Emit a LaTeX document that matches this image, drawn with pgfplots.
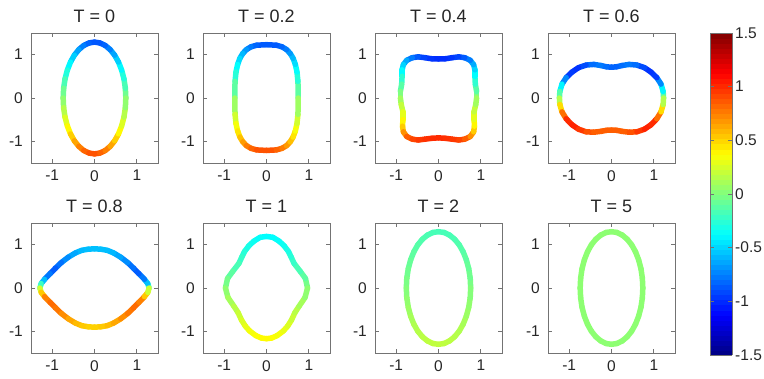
\documentclass[border=0pt]{standalone}
\usepackage{pgfplots}
\pgfplotsset{compat=1.18}
\usepackage{fontspec}
\setmainfont{Liberation Sans}

\pgfplotsset{
  every axis title shift=0pt,
  panel/.style={
    scale only axis, width=127pt, height=130pt,
    xmin=-1.5, xmax=1.5, ymin=-1.5, ymax=1.5,
    xtick={-1,0,1}, ytick={-1,0,1},
    xticklabels={-1,0,1}, yticklabels={-1,0,1},
    tick align=inside, major tick length=4pt,
    axis line style={black!55, line width=0.8pt},
    tick style={black!55, line width=0.8pt},
    ticklabel style={font=\fontsize{15.5}{16}\selectfont, text=black!85, inner sep=0pt},
    xticklabel style={anchor=north, yshift=-7pt},
    yticklabel style={anchor=east, xshift=-8pt},
    title style={at={(0.5,1)}, anchor=base, yshift=10pt, inner sep=0pt,
                 font=\fontsize{18}{20}\selectfont, text=black!85},
    colormap/jet, point meta min=-1.5, point meta max=1.5,
  },
  curve/.style={mesh, line width=5.5pt, line cap=round, line join=round, point meta=explicit},
}

\begin{document}
\begin{tikzpicture}
\useasboundingbox (0,0) rectangle (764pt,379pt);

% ---------- T = 0 ----------
\begin{axis}[panel, at={(31pt,216pt)}, anchor=south west, title={T = 0}]
\addplot[curve] table[x index=0, y index=1, meta index=2] {
0.740 0.000 0.00
0.729 0.224 -0.10
0.696 0.441 -0.22
0.641 0.645 -0.33
0.567 0.829 -0.45
0.476 0.988 -0.58
0.370 1.117 -0.70
0.253 1.213 -0.80
0.129 1.270 -0.86
0.000 1.290 -0.88
-0.129 1.270 -0.86
-0.253 1.213 -0.80
-0.370 1.117 -0.70
-0.476 0.988 -0.58
-0.567 0.829 -0.45
-0.641 0.645 -0.33
-0.696 0.441 -0.22
-0.729 0.224 -0.10
-0.740 0.000 0.00
-0.729 -0.224 0.10
-0.696 -0.441 0.22
-0.641 -0.645 0.33
-0.567 -0.829 0.45
-0.476 -0.988 0.58
-0.370 -1.117 0.70
-0.253 -1.213 0.80
-0.129 -1.270 0.86
0.000 -1.290 0.90
0.129 -1.270 0.86
0.253 -1.213 0.80
0.370 -1.117 0.70
0.476 -0.988 0.58
0.567 -0.829 0.45
0.641 -0.645 0.33
0.696 -0.441 0.22
0.729 -0.224 0.10
0.740 0.000 0.00
};
\end{axis}

% ---------- T = 0.2 ----------
\begin{axis}[panel, at={(203pt,216pt)}, anchor=south west, title={T = 0.2}]
\addplot[curve] table[x index=0, y index=1, meta index=2] {
0.750 0.000 0.00
0.743 0.384 -0.20
0.720 0.601 -0.32
0.682 0.775 -0.42
0.628 0.916 -0.53
0.559 1.030 -0.63
0.473 1.118 -0.72
0.367 1.181 -0.80
0.234 1.218 -0.85
0.000 1.230 -0.87
-0.234 1.218 -0.85
-0.367 1.181 -0.80
-0.473 1.118 -0.72
-0.559 1.030 -0.63
-0.628 0.916 -0.53
-0.682 0.775 -0.42
-0.720 0.601 -0.32
-0.743 0.384 -0.20
-0.750 0.000 0.00
-0.743 -0.378 0.18
-0.720 -0.592 0.30
-0.682 -0.762 0.40
-0.628 -0.901 0.50
-0.559 -1.013 0.62
-0.473 -1.100 0.72
-0.367 -1.162 0.80
-0.234 -1.198 0.86
0.000 -1.210 0.90
0.234 -1.198 0.86
0.367 -1.162 0.80
0.473 -1.100 0.72
0.559 -1.013 0.62
0.628 -0.901 0.50
0.682 -0.762 0.40
0.720 -0.592 0.30
0.743 -0.378 0.18
0.750 0.000 0.00
};
\end{axis}

% ---------- T = 0.4 ----------
\begin{axis}[panel, at={(375pt,216pt)}, anchor=south west, title={T = 0.4}]
\addplot[curve] table[x index=0, y index=1, meta index=2] {
0.90 0.00 0.05
0.90 0.15 -0.05
0.87 0.32 -0.18
0.86 0.50 -0.30
0.86 0.65 -0.45
0.83 0.77 -0.55
0.75 0.87 -0.70
0.62 0.93 -0.82
0.48 0.95 -0.90
0.32 0.93 -0.95
0.16 0.905 -0.98
0.00 0.90 -1.00
-0.16 0.905 -0.98
-0.32 0.93 -0.95
-0.48 0.95 -0.90
-0.62 0.93 -0.82
-0.75 0.87 -0.70
-0.83 0.77 -0.55
-0.86 0.65 -0.45
-0.86 0.50 -0.30
-0.87 0.32 -0.18
-0.90 0.15 -0.05
-0.90 0.00 0.05
-0.88 -0.15 0.15
-0.84 -0.32 0.25
-0.84 -0.50 0.35
-0.85 -0.65 0.45
-0.83 -0.78 0.60
-0.75 -0.89 0.80
-0.62 -0.95 0.90
-0.48 -0.97 0.95
-0.32 -0.95 0.97
-0.16 -0.93 1.00
0.00 -0.92 1.00
0.16 -0.93 1.00
0.32 -0.95 0.97
0.48 -0.97 0.95
0.62 -0.95 0.90
0.75 -0.89 0.80
0.83 -0.78 0.60
0.85 -0.65 0.45
0.84 -0.50 0.35
0.84 -0.32 0.25
0.88 -0.15 0.15
0.90 0.00 0.05
};
\end{axis}

% ---------- T = 0.6 (with colorbar) ----------
\begin{axis}[panel, at={(548pt,216pt)}, anchor=south west, title={T = 0.6},
  colorbar sampled,
  colorbar style={
    at={(parent axis.north east)}, anchor=north west, xshift=26.5pt,
    scale only axis, width=22pt, height=322pt,
    samples=65,
    xtick=\empty,
    ytick={-1.5,-1,-0.5,0,0.5,1,1.5},
    yticklabels={-1.5,-1,-0.5,0,0.5,1,1.5},
    ytick pos=both, yticklabel pos=right,
    tick align=inside, major tick length=4pt,
    axis line style={black!55, line width=0.8pt},
    tick style={black!55, line width=0.8pt},
    yticklabel style={font=\fontsize{15.5}{16}\selectfont, text=black!85,
                      anchor=west, inner sep=0pt, xshift=3pt},
  }]
\addplot[curve] table[x index=0, y index=1, meta index=2] {
1.23 0.00 0.00
1.22 0.15 -0.25
1.17 0.32 -0.55
1.07 0.47 -0.90
0.93 0.60 -1.00
0.78 0.70 -0.95
0.60 0.76 -0.85
0.42 0.775 -0.75
0.25 0.75 -0.78
0.12 0.72 -0.82
0.00 0.71 -0.85
-0.12 0.72 -0.82
-0.25 0.75 -0.78
-0.42 0.775 -0.75
-0.60 0.76 -0.85
-0.78 0.70 -0.95
-0.93 0.60 -1.00
-1.07 0.47 -0.90
-1.17 0.32 -0.55
-1.22 0.15 -0.25
-1.23 0.00 0.00
-1.22 -0.15 0.30
-1.17 -0.32 0.65
-1.07 -0.48 0.95
-0.93 -0.62 1.05
-0.78 -0.72 1.00
-0.60 -0.78 0.92
-0.42 -0.79 0.85
-0.25 -0.77 0.85
-0.12 -0.745 0.85
0.00 -0.74 0.85
0.12 -0.745 0.85
0.25 -0.77 0.85
0.42 -0.79 0.85
0.60 -0.78 0.92
0.78 -0.72 1.00
0.93 -0.62 1.05
1.07 -0.48 0.95
1.17 -0.32 0.65
1.22 -0.15 0.30
1.23 0.00 0.00
};
\end{axis}

% ---------- T = 0.8 ----------
\begin{axis}[panel, at={(31pt,26pt)}, anchor=south west, title={T = 0.8}]
\addplot[curve] table[x index=0, y index=1, meta index=2] {
1.29 0.00 0.05
1.26 0.10 -0.45
1.18 0.20 -0.67
1.05 0.33 -0.87
0.92 0.46 -0.83
0.78 0.59 -0.75
0.62 0.71 -0.67
0.45 0.81 -0.60
0.30 0.87 -0.57
0.15 0.895 -0.56
0.00 0.905 -0.56
-0.15 0.895 -0.56
-0.30 0.87 -0.57
-0.45 0.81 -0.60
-0.62 0.71 -0.67
-0.78 0.59 -0.75
-0.92 0.46 -0.83
-1.05 0.33 -0.87
-1.18 0.20 -0.67
-1.26 0.10 -0.45
-1.29 0.00 0.05
-1.26 -0.10 0.40
-1.18 -0.20 0.67
-1.05 -0.33 0.82
-0.92 -0.46 0.80
-0.78 -0.59 0.75
-0.62 -0.71 0.67
-0.45 -0.81 0.60
-0.30 -0.87 0.55
-0.15 -0.895 0.52
0.00 -0.905 0.50
0.15 -0.895 0.52
0.30 -0.87 0.55
0.45 -0.81 0.60
0.62 -0.71 0.67
0.78 -0.59 0.75
0.92 -0.46 0.80
1.05 -0.33 0.82
1.18 -0.20 0.67
1.26 -0.10 0.40
1.29 0.00 0.05
};
\end{axis}

% ---------- T = 1 ----------
\begin{axis}[panel, at={(203pt,26pt)}, anchor=south west, title={T = 1}]
\addplot[curve] table[x index=0, y index=1, meta index=2] {
0.97 0.00 0.01
0.92 0.22 -0.07
0.80 0.38 -0.13
0.65 0.57 -0.19
0.58 0.72 -0.24
0.52 0.84 -0.28
0.42 0.97 -0.32
0.30 1.08 -0.35
0.15 1.17 -0.37
0.00 1.19 -0.38
-0.15 1.17 -0.37
-0.30 1.08 -0.35
-0.42 0.97 -0.32
-0.52 0.84 -0.28
-0.58 0.72 -0.24
-0.65 0.57 -0.19
-0.80 0.38 -0.13
-0.92 0.22 -0.07
-0.97 0.00 0.01
-0.91 -0.22 0.08
-0.77 -0.42 0.14
-0.67 -0.57 0.19
-0.59 -0.74 0.25
-0.50 -0.88 0.29
-0.40 -0.99 0.33
-0.25 -1.10 0.36
-0.12 -1.155 0.38
0.00 -1.17 0.39
0.12 -1.155 0.38
0.25 -1.10 0.36
0.40 -0.99 0.33
0.50 -0.88 0.29
0.59 -0.74 0.25
0.67 -0.57 0.19
0.77 -0.42 0.14
0.91 -0.22 0.08
0.97 0.00 0.01
};
\end{axis}

% ---------- T = 2 ----------
\begin{axis}[panel, at={(375pt,26pt)}, anchor=south west, title={T = 2}]
\addplot[curve] table[x index=0, y index=1, meta index=2] {
0.760 0.000 0.00
0.749 0.226 -0.03
0.714 0.445 -0.06
0.658 0.650 -0.085
0.582 0.836 -0.11
0.489 0.996 -0.13
0.380 1.126 -0.145
0.260 1.222 -0.16
0.132 1.281 -0.165
0.000 1.300 -0.17
-0.132 1.281 -0.165
-0.260 1.222 -0.16
-0.380 1.126 -0.145
-0.489 0.996 -0.13
-0.582 0.836 -0.11
-0.658 0.650 -0.085
-0.714 0.445 -0.06
-0.749 0.226 -0.03
-0.760 0.000 0.00
-0.749 -0.226 0.035
-0.714 -0.445 0.07
-0.658 -0.650 0.10
-0.582 -0.836 0.13
-0.489 -0.996 0.15
-0.380 -1.126 0.17
-0.260 -1.222 0.18
-0.132 -1.281 0.19
0.000 -1.300 0.19
0.132 -1.281 0.19
0.260 -1.222 0.18
0.380 -1.126 0.17
0.489 -0.996 0.15
0.582 -0.836 0.13
0.658 -0.650 0.10
0.714 -0.445 0.07
0.749 -0.226 0.035
0.760 0.000 0.00
};
\end{axis}

% ---------- T = 5 ----------
\begin{axis}[panel, at={(548pt,26pt)}, anchor=south west, title={T = 5}]
\addplot[curve] table[x index=0, y index=1, meta index=2] {
0.740 0.000 0.04
0.729 0.226 0.04
0.696 0.445 0.04
0.641 0.650 0.04
0.567 0.836 0.04
0.476 0.996 0.04
0.370 1.126 0.04
0.253 1.222 0.04
0.129 1.281 0.04
0.000 1.300 0.04
-0.129 1.281 0.04
-0.253 1.222 0.04
-0.370 1.126 0.04
-0.476 0.996 0.04
-0.567 0.836 0.04
-0.641 0.650 0.04
-0.696 0.445 0.04
-0.729 0.226 0.04
-0.740 0.000 0.04
-0.729 -0.226 0.04
-0.696 -0.445 0.04
-0.641 -0.650 0.04
-0.567 -0.836 0.04
-0.476 -0.996 0.04
-0.370 -1.126 0.04
-0.253 -1.222 0.04
-0.129 -1.281 0.04
0.000 -1.300 0.04
0.129 -1.281 0.04
0.253 -1.222 0.04
0.370 -1.126 0.04
0.476 -0.996 0.04
0.567 -0.836 0.04
0.641 -0.650 0.04
0.696 -0.445 0.04
0.729 -0.226 0.04
0.740 0.000 0.04
};
\end{axis}

\end{tikzpicture}
\end{document}
